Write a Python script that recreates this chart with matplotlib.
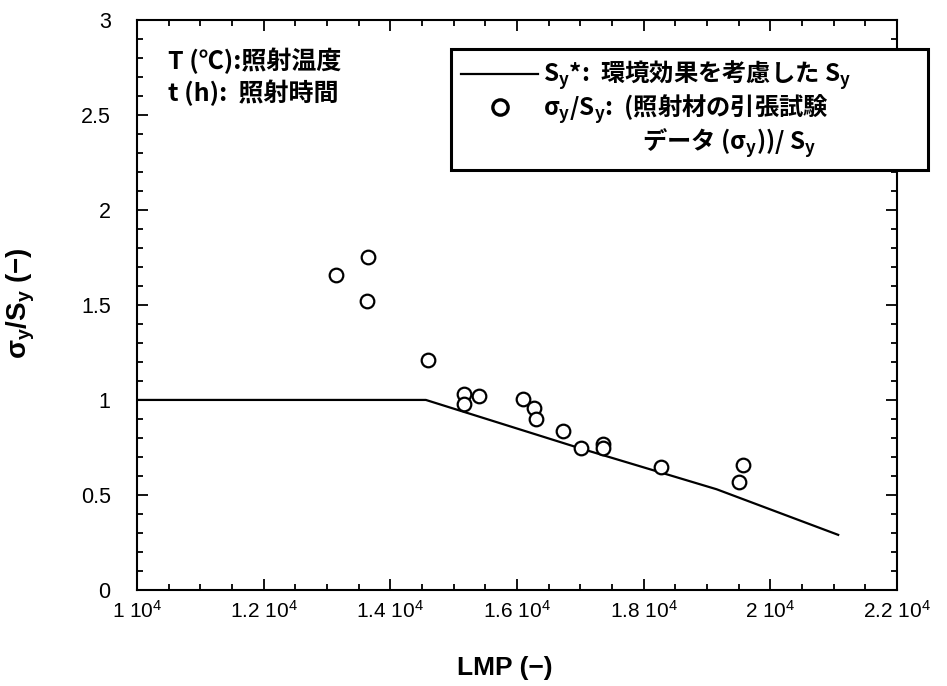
import numpy as np
import matplotlib
matplotlib.use('Agg')
import matplotlib.pyplot as plt
from matplotlib.lines import Line2D
from matplotlib.ticker import MultipleLocator

# data
lmp_points = [13140, 13640, 13630, 14600, 15170, 15170, 15400, 16100, 16260,
              16300, 16720, 17010, 17350, 17350, 18270, 19560, 19510]
ratio_points = [1.66, 1.75, 1.52, 1.21, 1.03, 0.98, 1.02, 1.005, 0.96,
                0.90, 0.835, 0.745, 0.77, 0.745, 0.648, 0.658, 0.57]

lmp_line = [10000, 14560, 17000, 19150, 21070]
ratio_line = [1.0, 1.0, 0.745, 0.53, 0.29]

xticks = [10000, 12000, 14000, 16000, 18000, 20000, 22000]
xticklabels = ['1 10', '1.2 10', '1.4 10', '1.6 10', '1.8 10', '2 10', '2.2 10']
yticks = [0, 0.5, 1, 1.5, 2, 2.5, 3]
yticklabels = ['0', '0.5', '1', '1.5', '2', '2.5', '3']

latin = ['Liberation Sans']
jp = ['Noto Sans CJK JP', 'DejaVu Sans']

fig = plt.figure(figsize=(9.47, 6.86), dpi=100)
ax = fig.add_axes([0.1447, 0.140, 0.8026, 0.831])

ax.plot(lmp_line, ratio_line, color='black', lw=1.6)
ax.plot(lmp_points, ratio_points, 'o', ms=9.8, mfc='white', mec='black', mew=1.6)

ax.set_xlim(10000, 22000)
ax.set_ylim(0, 3)
ax.set_xticks(xticks)
ax.set_xticklabels([r'$\mathregular{' + s.replace(' ', r'\;') + '^{4}}$' for s in xticklabels],
                   family=latin, fontsize=15)
ax.set_yticks(yticks)
ax.set_yticklabels(yticklabels, family=latin, fontsize=15.5)
ax.xaxis.set_minor_locator(MultipleLocator(500))
ax.yaxis.set_minor_locator(MultipleLocator(0.1))
ax.tick_params(which='both', direction='in', top=True, right=True, width=1.3)
ax.tick_params(which='major', length=8)
ax.tick_params(which='minor', length=4)
ax.tick_params(axis='x', pad=7)
ax.tick_params(axis='y', pad=19)
for sp in ax.spines.values():
    sp.set_linewidth(1.5)

ax.set_xlabel('LMP (\u2212)', family='Liberation Sans', weight='bold', fontsize=19)
ax.xaxis.set_label_coords(0.484, -0.115)
ax.set_ylabel(r'$\mathregular{\sigma_y/S_y}$ (' + '\u2212)', family='Liberation Sans',
              weight='bold', fontsize=20)
ax.yaxis.set_label_coords(-0.131, 0.503)

ax.text(0.041, 0.951, 'T (\u2103):照射温度\nt (h):  照射時間', transform=ax.transAxes,
        va='top', ha='left', family=jp, weight='bold', fontsize=18, linespacing=1.25)

handles = [Line2D([], [], color='black', lw=1.6),
           Line2D([], [], ls='none', marker='o', ms=11, mfc='white', mec='black', mew=2.4),
           Line2D([], [], ls='none')]
labels = [r'$\mathregular{S_y}$*:  環境効果を考慮した $\mathregular{S_y}$',
          r'$\mathregular{\sigma_y/S_y}$:  (照射材の引張試験',
          ' ' * 18 + r'データ ($\mathregular{\sigma_y}$))/ $\mathregular{S_y}$']
leg = ax.legend(handles, labels, loc='upper left', bbox_to_anchor=(0.413, 0.5, 0.628, 0.449),
                mode='expand', borderaxespad=0, fancybox=False, framealpha=1,
                edgecolor='black', handlelength=3.2, handletextpad=0.2, borderpad=0.4,
                labelspacing=0.0,
                prop={'family': 'Noto Sans CJK JP', 'weight': 'bold', 'size': 17.5})
leg.get_frame().set_linewidth(2.2)
leg.set_clip_on(False)

fig.savefig('out.png', dpi=100)
